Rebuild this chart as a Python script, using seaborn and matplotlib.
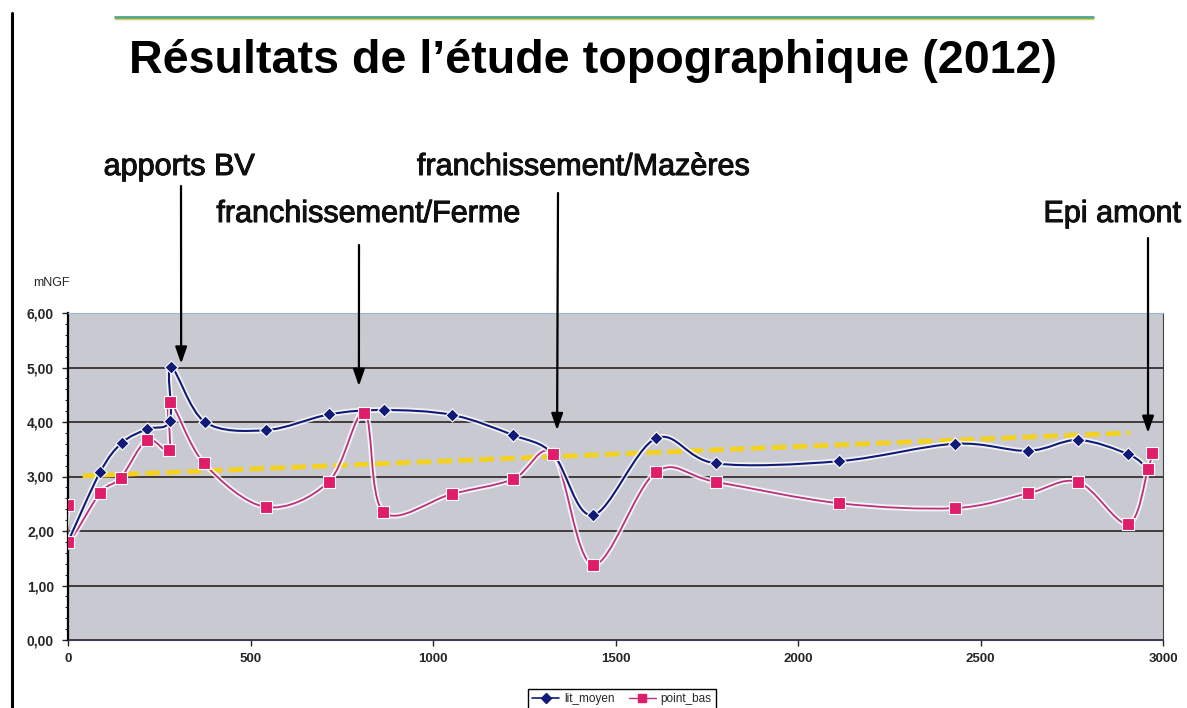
import numpy as np
import matplotlib
matplotlib.use("Agg")
import matplotlib.pyplot as plt
import matplotlib.patheffects as pe
from matplotlib.path import Path
from matplotlib.patches import PathPatch
from matplotlib.lines import Line2D
from matplotlib.ticker import FuncFormatter, MultipleLocator
import seaborn as sns

# distance along the river (m) and elevation (mNGF)
lit_x = [0, 88, 148, 216, 279, 282, 375, 542, 716, 865, 1052, 1219, 1329, 1438,
         1611, 1775, 2112, 2430, 2630, 2767, 2904, 2959]
lit_y = [1.80, 3.08, 3.62, 3.87, 4.02, 5.01, 4.00, 3.85, 4.14, 4.22, 4.13, 3.76,
         3.41, 2.29, 3.70, 3.24, 3.28, 3.60, 3.47, 3.67, 3.41, 3.14]

bas_x = [0, 0, 88, 145, 216, 277, 279, 373, 542, 714, 812, 864, 1052, 1219, 1329,
         1438, 1611, 1775, 2112, 2430, 2630, 2767, 2904, 2959, 2970]
bas_y = [2.47, 1.80, 2.70, 2.98, 3.67, 3.49, 4.37, 3.24, 2.44, 2.90, 4.17, 2.35,
         2.68, 2.95, 3.41, 1.38, 3.08, 2.90, 2.51, 2.42, 2.69, 2.90, 2.13, 3.14, 3.43]

# linear trend (yellow dashes)
trend_x = [40, 2910]
trend_y = [3.01, 3.80]

# annotations: label, arrow tip (data)
ann_labels = ["apports BV", "franchissement/Ferme", "franchissement/Mazères", "Epi amont"]
ann_x = [310, 797, 1340, 2959]
ann_y = [5.07, 4.66, 3.85, 3.80]

NAVY = "#101a78"
PINK = "#e01d6a"
PINK_LINE = "#b8307e"


def smooth_path(xs, ys):
    # excel-like smoothed line: cubic bezier through every point
    pts = np.column_stack([xs, ys]).astype(float)
    n = len(pts)
    verts = [pts[0]]
    codes = [Path.MOVETO]
    for i in range(n - 1):
        p0 = pts[max(i - 1, 0)]
        p1 = pts[i]
        p2 = pts[i + 1]
        p3 = pts[min(i + 2, n - 1)]
        verts += [p1 + (p2 - p0) / 6, p2 - (p3 - p1) / 6, p2]
        codes += [Path.CURVE4] * 3
    return Path(verts, codes)


sns.set_style("ticks")
plt.rcParams["font.family"] = ["Liberation Sans", "DejaVu Sans"]

W, H = 1187, 708
fig = plt.figure(figsize=(W / 100, H / 100), dpi=100)
ax = fig.add_axes([68 / W, 68 / H, (1163 - 68) / W, (640 - 313) / H])
ax.set_facecolor("#c9c9d2")

halo = [pe.Stroke(linewidth=4, foreground="white", alpha=0.8), pe.Normal()]

# trend line
sns.lineplot(x=trend_x, y=trend_y, ax=ax, color="#f2d21e", lw=3.5,
             linestyle=(0, (3.0, 1.3)), zorder=3)

# smoothed curves
for xs, ys, col, lw in [(bas_x, bas_y, PINK_LINE, 1.3), (lit_x, lit_y, NAVY, 1.5)]:
    patch = PathPatch(smooth_path(xs, ys), facecolor="none", edgecolor=col, lw=lw,
                      zorder=4, path_effects=halo)
    ax.add_patch(patch)

sns.scatterplot(x=lit_x, y=lit_y, ax=ax, marker="D", s=45, color=NAVY,
                edgecolor="white", linewidth=0.8, zorder=5)
sns.scatterplot(x=bas_x, y=bas_y, ax=ax, marker="s", s=80, color=PINK,
                edgecolor="white", linewidth=0.8, zorder=6)

ax.set_xlim(0, 3000)
ax.set_ylim(0, 6)
ax.set_xticks(range(0, 3001, 500))
ax.yaxis.set_major_locator(MultipleLocator(1))
ax.yaxis.set_minor_locator(MultipleLocator(0.2))
ax.yaxis.set_major_formatter(FuncFormatter(lambda v, p: f"{v:.2f}".replace(".", ",")))
ax.yaxis.grid(True, color="#3a3030", lw=1.3)
ax.set_axisbelow(True)
ax.tick_params(axis="x", labelsize=9.5, width=1, length=4, pad=5)
ax.tick_params(axis="y", labelsize=10, width=1, length=4, pad=6)
ax.tick_params(axis="y", which="minor", length=2.5, width=0.8)
for lab in ax.get_xticklabels() + ax.get_yticklabels():
    lab.set_fontweight("bold")
ax.set_xlabel("")
ax.set_ylabel("")
ax.spines["left"].set_color("black")
ax.spines["left"].set_linewidth(1.6)
ax.spines["bottom"].set_color("#3a3a5a")
ax.spines["top"].set_color("#9ab8cc")
ax.spines["right"].set_color("#404040")
for s in ax.spines.values():
    s.set_visible(True)

fig.text(33 / W, 1 - 283 / H, "mNGF", fontsize=9, va="center", ha="left")

# arrows and their labels
bold_ish = [pe.withStroke(linewidth=0.7, foreground="black")]
text_pos = [(179, 175), (368, 222), (583, 175), (1112, 222)]
tail_pos = [(181, 186), (359, 245), (558, 193), (1148, 238)]
for lab, xd, yd, (tx, ty), (ax_, ay_) in zip(ann_labels, ann_x, ann_y, text_pos, tail_pos):
    fig.text(tx / W, 1 - ty / H, lab, fontsize=22, ha="center", va="baseline",
             color="#111111", path_effects=bold_ish)
    ax.annotate("", xy=(xd, yd), xycoords="data",
                xytext=(ax_ / W, 1 - ay_ / H), textcoords="figure fraction",
                annotation_clip=False,
                arrowprops=dict(arrowstyle="-|>,head_length=1.0,head_width=0.35",
                                color="black", lw=1.6, shrinkA=0, shrinkB=0),
                zorder=8)

# title and decorations
fig.text(0.4996, 1 - 73 / H, "Résultats de l’étude topographique (2012)",
         fontsize=33.6, fontweight="bold", ha="center", va="baseline", color="black")
fig.add_artist(Line2D([115 / W, 1093 / W], [1 - 17 / H] * 2, color="#4fa58e", lw=2))
fig.add_artist(Line2D([115 / W, 1093 / W], [1 - 19 / H] * 2, color="#d9c84a", lw=1))
fig.add_artist(Line2D([12 / W] * 2, [0, 1 - 13 / H], color="black", lw=2.2))

handles = [
    Line2D([], [], color=NAVY, marker="D", markersize=5, lw=1.2, label="lit_moyen"),
    Line2D([], [], color=PINK_LINE, marker="s", markersize=6, markerfacecolor=PINK,
           markeredgecolor=PINK, lw=1, label="point_bas"),
]
leg = fig.legend(handles=handles, loc="center", bbox_to_anchor=(622 / W, 1 - 699 / H),
                 ncol=2, fontsize=8.5, frameon=True, fancybox=False, edgecolor="black",
                 framealpha=1, handlelength=2.3, columnspacing=1.2, handletextpad=0.4,
                 borderpad=0.35)
leg.get_frame().set_linewidth(1.0)

fig.savefig("out.png", dpi=100, facecolor="white")
